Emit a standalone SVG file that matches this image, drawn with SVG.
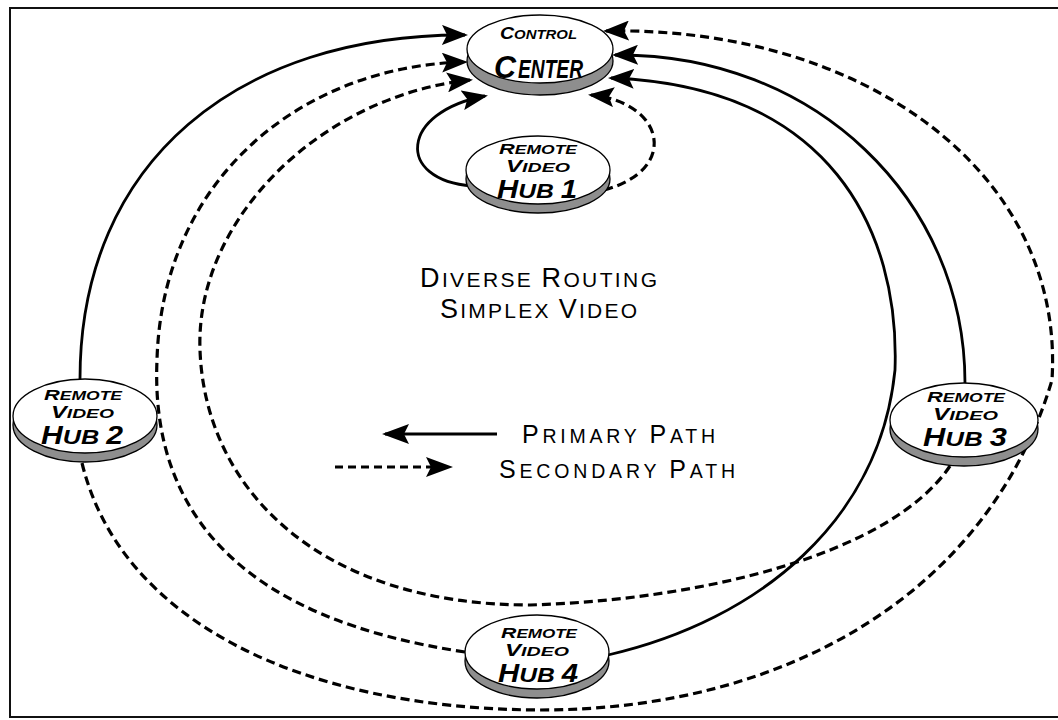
<svg xmlns="http://www.w3.org/2000/svg" width="1058" height="720" viewBox="0 0 1058 720">
<defs>
<style>
.face{fill:#fff;stroke:#000;stroke-width:1.3}
.rim{fill:#8e8e8e;stroke:#000;stroke-width:1.3}
.solid{fill:none;stroke:#000;stroke-width:2.8}
.dash{fill:none;stroke:#000;stroke-width:3.2;stroke-dasharray:9 5}
.ht{font-family:"Liberation Sans",Arial,sans-serif;font-weight:bold;font-style:italic;fill:#000}
.lt{font-family:"Liberation Sans",Arial,sans-serif;fill:#000}
</style>
<marker id="ah" markerUnits="userSpaceOnUse" markerWidth="27" markerHeight="20" viewBox="0 0 27 20" refX="23" refY="10" orient="auto">
<path d="M0,0 L26,10 L0,20 L5,10 z" fill="#000"/>
</marker>
<marker id="ahL" markerUnits="userSpaceOnUse" markerWidth="28" markerHeight="20" viewBox="0 0 28 20" refX="24" refY="10" orient="auto">
<path d="M0,0 L27,10 L0,20 L5,10 z" fill="#000"/>
</marker>
</defs>
<rect width="1058" height="720" fill="#fff"/>
<path d="M1058,8 H10 V717 H1058" fill="none" stroke="#111" stroke-width="2"/>

<g id="connectors">
<path class="solid" d="M80,379 C80,160 240,34 465,35" marker-end="url(#ah)"/>
<path class="dash" d="M465,652 C250,620 150,520 157,360 C162,180 300,66 465,62" marker-end="url(#ah)"/>
<path class="dash" d="M950,466 C890,555 700,600 530,605 C320,605 205,490 200,350 C195,220 320,96 470,80" marker-end="url(#ah)"/>
<path class="dash" d="M82,463 C120,620 300,709 540,710 C790,710 990,590 1052,380 C1065,170 860,26 606,31" marker-end="url(#ah)"/>
<path class="solid" d="M965,383 C965,200 815,53 615,55" marker-end="url(#ah)"/>
<path class="solid" d="M608,655 C760,620 880,520 895,370 C900,230 830,86 611,78" marker-end="url(#ah)"/>
<path class="solid" d="M472,186 C395,180 400,112 485,96" marker-end="url(#ah)"/>
<path class="dash" d="M604,190 C680,170 665,102 591,95" marker-end="url(#ah)"/>
</g>

<g id="control-center">
<ellipse class="rim" cx="540" cy="61" rx="73" ry="34"/>
<ellipse class="face" cx="540" cy="49" rx="73" ry="34"/>
<text class="ht" x="500" y="39" textLength="77" lengthAdjust="spacingAndGlyphs"><tspan font-size="17">C</tspan><tspan font-size="13">ONTROL</tspan></text>
<text class="ht" x="494" y="78" font-size="32" textLength="22" lengthAdjust="spacingAndGlyphs">C</text>
<text class="ht" x="518" y="78" font-size="26" textLength="65" lengthAdjust="spacingAndGlyphs">ENTER</text>
</g>

<g id="hub1">
<ellipse class="rim" cx="538" cy="179" rx="72" ry="34"/>
<ellipse class="face" cx="538" cy="170" rx="72" ry="34"/>
<text class="ht" x="499" y="154" textLength="78" lengthAdjust="spacingAndGlyphs"><tspan font-size="15">R</tspan><tspan font-size="12">EMOTE</tspan></text>
<text class="ht" x="506" y="172" textLength="64" lengthAdjust="spacingAndGlyphs"><tspan font-size="16">V</tspan><tspan font-size="13">IDEO</tspan></text>
<text class="ht" x="497" y="198" textLength="80" lengthAdjust="spacingAndGlyphs"><tspan font-size="25">H</tspan><tspan font-size="21">UB </tspan><tspan font-size="25">1</tspan></text>
</g>

<g id="hub2">
<ellipse class="rim" cx="85" cy="425" rx="72" ry="37"/>
<ellipse class="face" cx="85" cy="416" rx="72" ry="37"/>
<text class="ht" x="44" y="400" textLength="78" lengthAdjust="spacingAndGlyphs"><tspan font-size="15">R</tspan><tspan font-size="12">EMOTE</tspan></text>
<text class="ht" x="51" y="418" textLength="63" lengthAdjust="spacingAndGlyphs"><tspan font-size="16">V</tspan><tspan font-size="13">IDEO</tspan></text>
<text class="ht" x="41" y="444" textLength="82" lengthAdjust="spacingAndGlyphs"><tspan font-size="25">H</tspan><tspan font-size="21">UB </tspan><tspan font-size="25">2</tspan></text>
</g>

<g id="hub3">
<ellipse class="rim" cx="964" cy="429" rx="74" ry="37"/>
<ellipse class="face" cx="964" cy="420" rx="74" ry="37"/>
<text class="ht" x="927" y="402" textLength="78" lengthAdjust="spacingAndGlyphs"><tspan font-size="15">R</tspan><tspan font-size="12">EMOTE</tspan></text>
<text class="ht" x="933" y="420" textLength="65" lengthAdjust="spacingAndGlyphs"><tspan font-size="16">V</tspan><tspan font-size="13">IDEO</tspan></text>
<text class="ht" x="923" y="446" textLength="84" lengthAdjust="spacingAndGlyphs"><tspan font-size="25">H</tspan><tspan font-size="21">UB </tspan><tspan font-size="25">3</tspan></text>
</g>

<g id="hub4">
<ellipse class="rim" cx="537" cy="661" rx="72" ry="37"/>
<ellipse class="face" cx="537" cy="652" rx="72" ry="37"/>
<text class="ht" x="501" y="638" textLength="76" lengthAdjust="spacingAndGlyphs"><tspan font-size="15">R</tspan><tspan font-size="12">EMOTE</tspan></text>
<text class="ht" x="505" y="656" textLength="64" lengthAdjust="spacingAndGlyphs"><tspan font-size="16">V</tspan><tspan font-size="13">IDEO</tspan></text>
<text class="ht" x="498" y="682" textLength="80" lengthAdjust="spacingAndGlyphs"><tspan font-size="25">H</tspan><tspan font-size="21">UB </tspan><tspan font-size="25">4</tspan></text>
</g>

<g id="title">
<text class="lt" x="420" y="287" textLength="237"><tspan font-size="27">D</tspan><tspan font-size="21">IVERSE </tspan><tspan font-size="27">R</tspan><tspan font-size="21">OUTING</tspan></text>
<text class="lt" x="440" y="318" textLength="197"><tspan font-size="27">S</tspan><tspan font-size="21">IMPLEX </tspan><tspan font-size="27">V</tspan><tspan font-size="21">IDEO</tspan></text>
</g>

<g id="legend">
<path d="M497,434 H385" fill="none" stroke="#000" stroke-width="2.8" marker-end="url(#ahL)"/>
<path d="M335,467 H450" fill="none" stroke="#000" stroke-width="3" stroke-dasharray="8 5" marker-end="url(#ahL)"/>
<text class="lt" x="522" y="443" textLength="193"><tspan font-size="25">P</tspan><tspan font-size="19.5">RIMARY </tspan><tspan font-size="25">P</tspan><tspan font-size="19.5">ATH</tspan></text>
<text class="lt" x="499" y="478" textLength="236"><tspan font-size="25">S</tspan><tspan font-size="19.5">ECONDARY </tspan><tspan font-size="25">P</tspan><tspan font-size="19.5">ATH</tspan></text>
</g>
</svg>
